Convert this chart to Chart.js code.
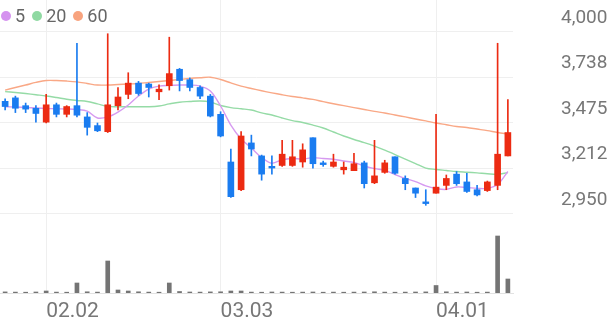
<!DOCTYPE html>
<html><head><meta charset="utf-8">
<script src="https://cdn.jsdelivr.net/npm/chart.js@4"></script>
<style>
html,body{margin:0;padding:0;background:#fff;}
#wrap{position:relative;width:616px;height:321px;overflow:hidden;}
#legend{position:absolute;left:0;top:6px;font:18px Roboto,sans-serif;color:#666;display:flex;align-items:center;line-height:20px;}
.dot{display:inline-block;width:10px;height:10px;border-radius:50%;margin:0 4px 0 1px;}
.item{display:flex;align-items:center;margin-right:6px;}
</style></head>
<body><div id="wrap"><canvas id="c" width="616" height="321"></canvas>
<div id="legend">
<span class="item"><span class="dot" style="background:#d592ef"></span>5</span>
<span class="item"><span class="dot" style="background:#8fd9a2"></span>20</span>
<span class="item"><span class="dot" style="background:#f8a37e"></span>60</span>
</div></div>
<script>
const dates = ['01.27','01.28','01.29','01.30','02.02','02.03','02.04','02.05','02.06','02.09','02.10','02.11','02.12','02.13','02.19','02.20','02.23','02.24','02.25','02.26','02.27','03.03','03.04','03.05','03.06','03.09','03.10','03.11','03.12','03.13','03.16','03.17','03.18','03.19','03.20','03.23','03.24','03.25','03.26','03.27','03.30','03.31','04.01','04.02','04.03','04.06','04.07','04.08','04.09','04.10'];
const openP  = [3600,3620,3575,3560,3480,3580,3525,3575,3510,3460,3425,3575,3640,3705,3700,3655,3690,3785,3725,3680,3630,3525,3250,3090,3360,3285,3225,3230,3230,3250,3390,3245,3225,3205,3200,3245,3130,3190,3280,3155,3100,3020,3070,3115,3180,3135,3090,3085,3115,3285];
const closeP = [3570,3560,3555,3530,3580,3525,3570,3520,3450,3430,3580,3625,3705,3645,3680,3670,3760,3720,3680,3630,3515,3400,3050,3400,3325,3180,3215,3295,3280,3320,3240,3235,3250,3220,3240,3125,3170,3245,3185,3125,3070,3010,3105,3155,3125,3080,3060,3135,3295,3420];
const highP  = [3615,3630,3590,3575,3640,3590,3575,3935,3535,3475,3990,3680,3765,3715,3705,3695,3970,3790,3735,3690,3640,3540,3325,3425,3405,3290,3285,3375,3375,3355,3390,3255,3295,3250,3300,3255,3375,3260,3280,3170,3100,3090,3525,3175,3195,3185,3115,3140,3935,3610];
const lowP   = [3550,3535,3535,3480,3475,3510,3510,3510,3405,3425,3420,3550,3615,3635,3625,3610,3665,3660,3660,3615,3510,3395,3045,3085,3285,3145,3180,3225,3225,3220,3215,3225,3220,3180,3200,3100,3125,3185,3180,3090,3045,3000,3070,3090,3115,3075,3055,3080,3090,3285];
const volume = [11000,9000,8000,10000,20000,9000,8000,100000,12000,9000,320000,30000,20000,12000,9000,8000,100000,15000,10000,9000,11000,12000,20000,20000,9000,8000,10000,9000,8000,9000,10000,8000,9000,8000,9000,10000,12000,9000,8000,9000,10000,11000,75000,12000,9000,10000,8000,9000,570000,140000];
const ma5  = [3569,3567,3564,3562,3559,3557,3556,3553,3544,3504,3510,3538,3579,3631,3671,3688,3692,3694,3694,3688,3660,3573,3463,3383,3331,3276,3243,3263,3270,3267,3275,3270,3266,3256,3247,3227,3212,3202,3178,3155,3137,3112,3097,3092,3106,3103,3098,3098,3120,3195];
const ma20 = [3656,3651,3645,3638,3631,3622,3612,3605,3599,3585,3571,3569,3569,3569,3569,3573,3585,3595,3599,3602,3596,3576,3564,3557,3550,3533,3521,3504,3489,3478,3463,3446,3423,3400,3380,3362,3342,3319,3293,3267,3241,3215,3207,3201,3195,3191,3187,3182,3179,3189];
const ma60 = [3665,3680,3694,3709,3720,3720,3717,3712,3703,3694,3694,3697,3700,3703,3709,3714,3720,3726,3732,3736,3739,3726,3706,3688,3674,3661,3649,3638,3628,3620,3611,3598,3586,3575,3564,3553,3542,3533,3521,3510,3498,3487,3475,3465,3455,3449,3440,3431,3420,3412];
const priceTicks = [2950, 3212.5, 3475, 3737.5, 4000];
const priceTickLabels = ['2,950','3,212','3,475','3,738','4,000'];
const shownDates = ['02.02','03.03','04.01'];

const upColor = '#ec2b12', downColor = '#1a7cf0';
const candleColors = openP.map((o,i) => closeP[i] >= o ? upColor : downColor);

new Chart(document.getElementById('c'), {
  type: 'bar',
  data: {
    labels: dates,
    datasets: [
      {type:'line', label:'5', data:ma5, borderColor:'#d69af0', borderWidth:1.4, pointRadius:0, tension:0.35, yAxisID:'y', order:5},
      {type:'line', label:'20', data:ma20, borderColor:'#95dba6', borderWidth:1.4, pointRadius:0, tension:0.35, yAxisID:'y', order:5},
      {type:'line', label:'60', data:ma60, borderColor:'#f9a886', borderWidth:1.4, pointRadius:0, tension:0.35, yAxisID:'y', order:5},
      {label:'wick', data: highP.map((h,i)=>[lowP[i], h]), backgroundColor:candleColors, barThickness:1, grouped:false, yAxisID:'y', order:2},
      {label:'body', data: openP.map((o,i)=>[o, closeP[i]]), backgroundColor:candleColors, barThickness:6, grouped:false, minBarLength:1, yAxisID:'y', order:1},
      {label:'vol', data: volume, backgroundColor:'#747474', barThickness:4, grouped:false, yAxisID:'yVol', order:1}
    ]
  },
  options: {
    responsive:false, animation:false, devicePixelRatio:1,
    layout:{padding:0, autoPadding:false},
    plugins:{legend:{display:false}, tooltip:{enabled:false}},
    scales:{
      x:{
        offset:true,
        grid:{offset:false, drawTicks:false, lineWidth:1, color:(c)=> shownDates.includes(dates[c.index]) ? '#efefef' : 'rgba(0,0,0,0)'},
        border:{display:true, color:'#e2e2e2'},
        ticks:{autoSkip:false, maxRotation:0, minRotation:0, align:'start', padding:6, color:'#777', font:{family:'Roboto', size:21},
          callback:(v,i)=> shownDates.includes(dates[i]) ? dates[i] : ''},
        afterFit:(s)=>{ s.height = 28; s.paddingLeft = 0; s.paddingRight = 0; }
      },
      y:{
        position:'right', min:2494.2, max:4184.6,
        afterBuildTicks:(s)=>{ s.ticks = priceTicks.map(v=>({value:v})); },
        grid:{color:'#efefef', drawTicks:false},
        border:{display:false},
        ticks:{labelOffset:-14, padding:48, color:'#777', font:{family:'Roboto', size:19},
          callback:(v,i)=> priceTickLabels[i]},
        afterFit:(s)=>{ s.width = 103; s.paddingTop = 0; s.paddingBottom = 0; }
      },
      yVol:{display:false, min:0, max:2930000, afterFit:(s)=>{ s.paddingTop = 0; s.paddingBottom = 0; }}
    }
  }
});
</script>
</body></html>
